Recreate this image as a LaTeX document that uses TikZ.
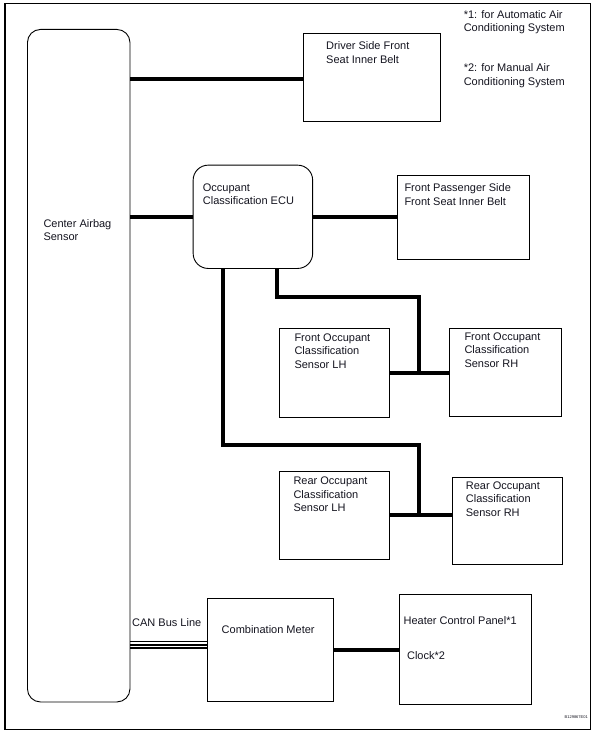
\documentclass[tikz,border=0pt]{standalone}
\usepackage{fontspec}
\setmainfont{Liberation Sans}
\begin{document}
\begin{tikzpicture}[x=1pt,y=-1pt]
	\definecolor{inkblack}{rgb}{0.08, 0.08, 0.12}
	\tikzset{box/.style={draw,line width=.9pt,inner sep=0,anchor=north west},
		unit/.style={box,rounded corners=14pt},
		lbl/.style={anchor=base west,inner sep=0,align=left,text=inkblack,font=\fontsize{11}{13.4}\selectfont},
		wire/.style={line width=4pt},
		can/.style={line width=1.6pt}}
	\useasboundingbox (0,0) rectangle (598,733);
	\draw[line width=1.1pt] (5,3.8) rectangle (590.5,729.3);
	
	%boxes
	\node[unit,rounded corners=13pt,minimum width=102.5pt,minimum height=672.5pt] (cas) at (27,29) {};
	\node[box,minimum width=137.1pt,minimum height=87.7pt] (drv) at (302.7,33.3) {};
	\node[unit,rounded corners=15pt,minimum width=119.5pt,minimum height=103.3pt] (ecu) at (192.7,164.7) {};
	\node[box,minimum width=132pt,minimum height=84pt] (fpb) at (396.7,175.3) {};
	\node[box,minimum width=110pt,minimum height=89pt] (folh) at (279.3,328.3) {};
	\node[box,minimum width=111.4pt,minimum height=88.3pt] (forh) at (449.3,327.7) {};
	\node[box,minimum width=110pt,minimum height=88.6pt] (rolh) at (279.3,470.7) {};
	\node[box,minimum width=110.6pt,minimum height=87.6pt] (rorh) at (451.7,476.7) {};
	\node[box,minimum width=125.3pt,minimum height=102.7pt] (cmb) at (207.3,598.3) {};
	\node[box,minimum width=132.2pt,minimum height=110pt] (hcp) at (398.5,594.3) {};
	
	%texts (placed at the baseline of the last line)
	\node[lbl] (note1) at (463.6,32) {*1: for Automatic Air\\Conditioning System};
	\node[lbl] (note2) at (463.6,85.3) {*2: for Manual Air\\Conditioning System};
	\node[lbl] (cast) at (43.3,240.7) {Center Airbag\\Sensor};
	\node[lbl] (drvt) at (326,63.3) {Driver Side Front\\Seat Inner Belt};
	\node[lbl] (ecut) at (202.7,204.7) {Occupant\\Classification ECU};
	\node[lbl] (fpbt) at (404.3,205.3) {Front Passenger Side\\Front Seat Inner Belt};
	\node[lbl] (folht) at (294.3,368.3) {Front Occupant\\Classification\\Sensor LH};
	\node[lbl] (forht) at (464.3,367.3) {Front Occupant\\Classification\\Sensor RH};
	\node[lbl] (rolht) at (293.3,511.7) {Rear Occupant\\Classification\\Sensor LH};
	\node[lbl] (rorht) at (465.7,516.3) {Rear Occupant\\Classification\\Sensor RH};
	\node[lbl] (cant) at (132,626) {CAN Bus Line};
	\node[lbl] (cmbt) at (221.5,633.3) {Combination Meter};
	\node[lbl] (hcpt) at (403.4,624) {Heater Control Panel*1};
	\node[lbl] (clkt) at (406.9,659.3) {Clock*2};
	\node[lbl,anchor=base east,font=\fontsize{4}{5}\selectfont] (code) at (588,718) {B129867E01};
	
	%wires
	\coordinate (fj) at (418.7,297);
	\coordinate (rj) at (418.7,445);
	\draw[wire] (cas.east |- 0,79) -- (drv.west |- 0,79);
	\draw[wire] (cas.east |- ecu.west) -- (ecu.west);
	\draw[wire] (ecu.east) -- (ecu.east -| fpb.west);
	\draw[wire] (ecu.south -| 276.7,0) |- (fj) -- (fj |- folh.east);
	\draw[wire] (folh.east) -- (folh.east -| forh.west);
	\draw[wire] (ecu.south -| 223.3,0) |- (rj) -- (rj |- rolh.east);
	\draw[wire] (rolh.east) -- (rolh.east -| rorh.west);
	\draw[wire] (cmb.east) -- (cmb.east -| hcp.west);
	\foreach \y in {641.5,644.7,648}
		\draw[can] (cas.east |- 0,\y) -- (cmb.west |- 0,\y);
\end{tikzpicture}
\end{document}
